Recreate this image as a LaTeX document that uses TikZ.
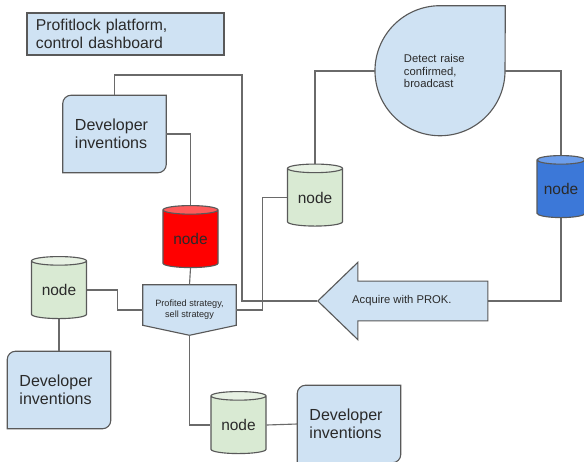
\documentclass[tikz,border=0pt]{standalone}
\usepackage{fontspec}
\setmainfont{Liberation Sans}
\usepackage{xcolor}
\usetikzlibrary{arrows.meta, calc, positioning, shapes.geometric, shapes.arrows, backgrounds}

\definecolor{paleblue}{HTML}{CFE2F3}
\definecolor{palegreen}{HTML}{D9EAD3}
\definecolor{greentop}{HTML}{E7F1E3}
\definecolor{edgegray}{HTML}{595959}
\definecolor{linegray}{HTML}{6A6A6A}
\definecolor{dbblue}{HTML}{3C78D8}
\definecolor{dbbluetop}{HTML}{6D9EEB}
\definecolor{dbred}{HTML}{FF0000}
\definecolor{redtop}{HTML}{FF5A5A}
\definecolor{inkgray}{HTML}{2A2A2A}

\begin{document}
\begin{tikzpicture}[x=0.025cm, y=-0.025cm, every node/.style={text=inkgray},
  conn/.style={draw=linegray, line width=0.8pt},
  outline/.style={draw=edgegray, fill=paleblue, line width=0.8pt},
  db/.style={cylinder, shape border rotate=90, draw=edgegray, line width=0.8pt,
    aspect=0.25, minimum width=1.375cm, minimum height=1.55cm, inner sep=0pt,
    cylinder uses custom fill, font=\fontsize{11}{13}\selectfont},
  greendb/.style={db, cylinder body fill=palegreen, cylinder end fill=greentop},
  devbox/.style={minimum width=2.575cm, minimum height=1.925cm, text width=1.975cm,
    align=left, inner xsep=0.3cm, font=\fontsize{11.4}{13}\selectfont}]
\useasboundingbox (0,0) rectangle (584,461);

\node[draw=edgegray, fill=paleblue, line width=0.8pt, text width=4.475cm, inner xsep=0.225cm,
  minimum height=1.05cm, align=left, font=\fontsize{11.2}{12.5}\selectfont] (title) at (125.5,34)
  {Profitlock platform,\\control dashboard};

\node[devbox] (dev1) at (114.5,134) {Developer\\inventions};
\node[devbox] (dev2) at (59,390) {Developer\\inventions};
\node[devbox] (dev3) at (349,424) {Developer\\inventions};

\node[db, cylinder body fill=dbred, cylinder end fill=redtop] (reddb) at (190.5,239) {node};
\node[greendb] (leftdb) at (59,290) {node};
\node[greendb] (middb) at (315,197.5) {node};
\node[greendb] (lowdb) at (238.5,425) {node};
\node[db, minimum width=1.2cm, cylinder body fill=dbblue, cylinder end fill=dbbluetop] (bluedb) at (561,189) {node};

\node[minimum width=2.325cm, minimum height=1.25cm, inner sep=0pt, align=center,
  font=\fontsize{6.5}{8}\selectfont] (strat) at (189.5,310) {Profited strategy,\\sell strategy};

\node[circle, minimum size=3.25cm, inner sep=0pt, text width=1.8cm, align=left,
  font=\fontsize{8}{9}\selectfont] (drop) at (440,71) {Detect raise\\confirmed,\\broadcast};

\node[single arrow, shape border rotate=180, draw=edgegray, fill=paleblue, line width=0.8pt,
  minimum height=4.25cm, single arrow head extend=0.47cm, single arrow tip angle=88,
  single arrow head indent=0pt, inner ysep=10pt, inner xsep=6pt, anchor=tip,
  font=\fontsize{8}{9}\selectfont] (acq) at (317,301) {Acquire with PROK.\hspace*{16pt}};

\begin{scope}[on background layer]
\foreach \d in {dev1,dev2,dev3}
  \draw[outline] (\d.south west) -- ([yshift=-6pt]\d.north west) arc[start angle=180, end angle=90, radius=6pt]
    -- (\d.north east) -- ([yshift=6pt]\d.south east) arc[start angle=0, end angle=-90, radius=6pt] -- cycle;
\draw[outline] (strat.north west) -- (strat.north east) -- ([yshift=0.25cm]strat.south east)
  -- (strat.south) -- ([yshift=0.25cm]strat.south west) -- cycle;
\draw[outline] (drop.north -| drop.east) -- (drop.north) arc[start angle=90, end angle=360, radius=1.625cm] -- cycle;

\draw[conn] (dev1.north) |- (242,75) -- (242,301) -- (acq.tip);
\draw[conn] (dev1.east) -| (reddb.north);
\draw[conn] (reddb.south) -- (strat.north);
\draw[conn] (leftdb.east) -- ++(30,0) |- (strat.west);
\draw[conn] (strat.east) -- ++(26,0) |- (middb.west);
\draw[conn] (leftdb.south) -- (dev2.north);
\draw[conn] (strat.south) |- (lowdb.west);
\draw[conn] (lowdb.east) -- (dev3.west);
\draw[conn] (middb.north) |- (drop.west);
\draw[conn] (drop.east) -| (bluedb.north);
\draw[conn] (bluedb.south) |- (acq.tail);
\end{scope}
\end{tikzpicture}
\end{document}
